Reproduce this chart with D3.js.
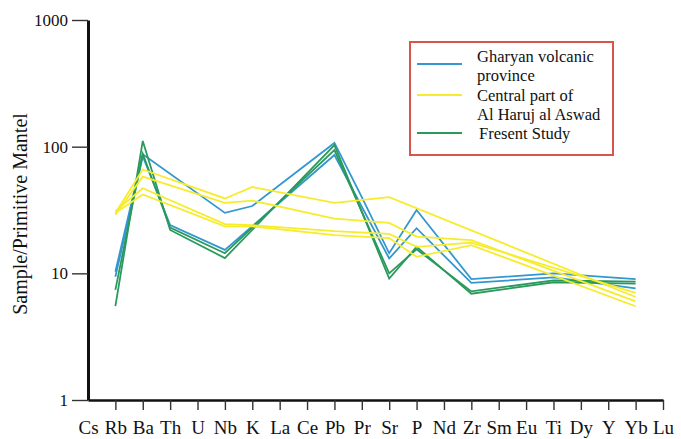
<!DOCTYPE html>
<html>
<head>
<meta charset="utf-8">
<script src="https://cdn.jsdelivr.net/npm/d3@7"></script>
<style>
  html, body { margin: 0; padding: 0; background: #fff; }
  svg { display: block; }
  svg text { font-family: "Liberation Serif", "Times New Roman", Times, "DejaVu Serif", "Noto Serif", serif; }
</style>
</head>
<body>
<svg id="chart" width="681" height="439"></svg>
<script>
// Primitive-mantle normalised trace elements (spider diagram order)
const elements = ["Cs","Rb","Ba","Th","U","Nb","K","La","Ce","Pb","Pr","Sr","P","Nd","Zr","Sm","Eu","Ti","Dy","Y","Yb","Lu"];
const yTickValues = [1, 10, 100, 1000];

// Gharyan volcanic province
const gharyanA = [["Rb",10.3],["Ba",87],["Nb",30],["K",34],["Pb",107],["Pr",40],["Sr",14.4],["P",31.6],["Zr",9.0],["Ti",10.0],["Yb",9.0]];
const gharyanB = [["Rb",9.4],["Ba",84],["Th",24],["Nb",15.3],["Pb",86],["Sr",13.1],["P",22.7],["Zr",8.4],["Ti",9.3],["Yb",7.6]];

// Central part of Al Haruj al Aswad
const harujA = [["Rb",30],["Ba",66],["Nb",39],["K",48],["Pb",36],["Sr",40],["Yb",6.5]];
const harujB = [["Rb",29],["Ba",58],["Nb",36],["K",37.5],["Pb",27],["Sr",25],["P",19.5],["Zr",18.3],["Yb",6.0]];
const harujC = [["Rb",31],["Ba",47],["Nb",24.5],["K",24],["Pb",21.5],["Sr",20.5],["P",16.2],["Zr",17.5],["Yb",7.0]];
const harujD = [["Rb",30],["Ba",42],["Nb",23.5],["K",23.5],["Pb",20],["Sr",19],["P",13.5],["Zr",16.7],["Yb",5.5]];

// Present study
const presentA = [["Rb",5.5],["Ba",111],["Th",22],["Nb",13.2],["Pb",103],["Sr",9.1],["P",16.2],["Zr",6.9],["Ti",8.5],["Yb",8.3]];
const presentB = [["Rb",7.4],["Ba",88],["Th",23],["Nb",14.4],["Pb",94],["Sr",10.0],["P",15.5],["Zr",7.2],["Ti",8.8],["Yb",8.6]];

const legendLines = [["Gharyan volcanic", "province"], ["Central part of", "Al Haruj al Aswad"], ["Fresent Study"]];
const groupColors = ["#3497cf", "#f6ec2c", "#2a9a5c"];

const groups = [
  { color: groupColors[0], series: [gharyanA, gharyanB] },
  { color: groupColors[2], series: [presentA, presentB] },
  { color: groupColors[1], series: [harujA, harujB, harujC, harujD] }
];

const svg = d3.select("#chart");
const serif = "'Liberation Serif', 'Times New Roman', Times, 'DejaVu Serif', serif";

const x = d3.scalePoint().domain(elements).range([88, 663]);
const y = d3.scaleLog().domain([1, 1000]).range([400, 20]);

// Profiles
const line = d3.line().x(d => x(d[0])).y(d => y(d[1]));
const plot = svg.append("g");
groups.forEach(g => {
  plot.selectAll(null)
    .data(g.series)
    .join("path")
    .attr("d", line)
    .attr("fill", "none")
    .attr("stroke", g.color)
    .attr("stroke-width", 1.8)
    .attr("stroke-linejoin", "miter");
});

// Bottom axis
const xAxis = svg.append("g")
  .attr("transform", `translate(0,${y(1)})`)
  .call(d3.axisBottom(x).tickSize(10).tickPadding(11).tickSizeOuter(0));
xAxis.attr("font-family", serif).attr("font-size", 19);
xAxis.select(".domain").attr("stroke", "#111").attr("stroke-width", 2.6);
xAxis.selectAll(".tick line").attr("stroke", "#333").attr("stroke-width", 1.4);
xAxis.selectAll(".tick").filter(d => d === elements[0]).select("line").remove();
xAxis.selectAll(".tick text").attr("fill", "#111");

// Left axis
const yAxis = svg.append("g")
  .attr("transform", `translate(${x(elements[0])},0)`)
  .call(d3.axisLeft(y).tickValues(yTickValues).tickFormat(d3.format("d")).tickSize(16).tickPadding(4).tickSizeOuter(0));
yAxis.attr("font-family", serif).attr("font-size", 17);
yAxis.select(".domain").attr("stroke", "#111").attr("stroke-width", 3);
yAxis.selectAll(".tick line").attr("stroke", "#333").attr("stroke-width", 1.4);
yAxis.selectAll(".tick text").attr("fill", "#111");

// Axis title
svg.append("text")
  .attr("transform", "translate(27,214) rotate(-90)")
  .attr("text-anchor", "middle")
  .attr("fill", "#111")
  .attr("font-size", 20)
  .text("Sample/Primitive Mantel");

// Legend
const legend = svg.append("g").attr("transform", "translate(410,42)");
legend.append("rect")
  .attr("width", 203).attr("height", 113)
  .attr("fill", "#fff")
  .attr("stroke", "#d9534f")
  .attr("stroke-width", 2);

const firstBaseline = [20, 59, 97];
const swatchY = [22, 53, 91];
legendLines.forEach((lines, i) => {
  legend.append("line")
    .attr("x1", 7).attr("x2", 52)
    .attr("y1", swatchY[i]).attr("y2", swatchY[i])
    .attr("stroke", groupColors[i])
    .attr("stroke-width", 2);
  const t = legend.append("text")
    .attr("fill", "#111")
    .attr("font-size", 16.5);
  lines.forEach((s, j) => {
    t.append("tspan")
      .attr("x", i === 2 ? 69 : 67)
      .attr("y", firstBaseline[i] + j * 19)
      .text(s);
  });
});
</script>
</body>
</html>
